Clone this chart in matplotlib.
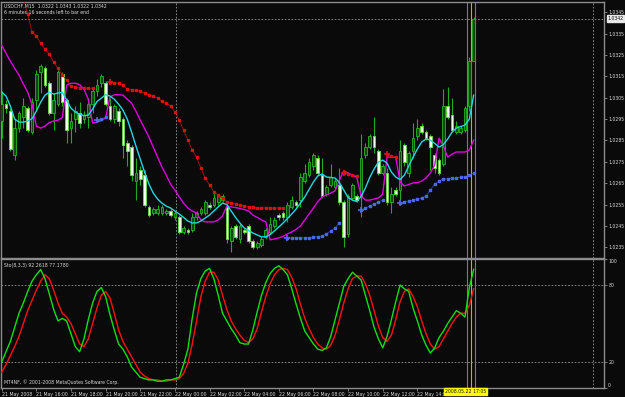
import numpy as np
import matplotlib.pyplot as plt

# ---- data (USDCHF M15) ----
opens = [1.0294, 1.0302, 1.0299, 1.0278, 1.0291, 1.0296, 1.0300, 1.0289, 1.0304, 1.0317,
         1.0319, 1.0312, 1.0298, 1.0302, 1.0316, 1.0304, 1.0291, 1.0295, 1.0298, 1.0295,
         1.0296, 1.0302, 1.0308, 1.0312, 1.0312, 1.0301, 1.0295, 1.0299, 1.0295, 1.0284,
         1.0282, 1.0266, 1.0271, 1.0269, 1.0254, 1.0251, 1.0251, 1.0251, 1.0251, 1.0252,
         1.0249, 1.0249, 1.0242, 1.0243, 1.0243, 1.0249, 1.0251, 1.0251, 1.0255, 1.0255,
         1.0256, 1.0257, 1.0254, 1.0238, 1.0245, 1.0239, 1.0243, 1.0245, 1.0238, 1.0235,
         1.0236, 1.0240, 1.0242, 1.0245, 1.0250, 1.0251, 1.0249, 1.0254, 1.0256, 1.0257,
         1.0266, 1.0269, 1.0273, 1.0277, 1.0269, 1.0260, 1.0264, 1.0263, 1.0264, 1.0256,
         1.0241, 1.0258, 1.0259, 1.0259, 1.0278, 1.0282, 1.0287, 1.0280, 1.0270, 1.0270,
         1.0256, 1.0262, 1.0262, 1.0283, 1.0270, 1.0280, 1.0287, 1.0292, 1.0289, 1.0287,
         1.0278, 1.0276, 1.0274, 1.0301, 1.0297, 1.0289, 1.0289, 1.0290, 1.0301, 1.0322]
highs = [1.0308, 1.0304, 1.0300, 1.0295, 1.0299, 1.0305, 1.0301, 1.0305, 1.0318, 1.0321,
         1.0320, 1.0313, 1.0307, 1.0318, 1.0317, 1.0305, 1.0298, 1.0301, 1.0303, 1.0299,
         1.0305, 1.0309, 1.0314, 1.0316, 1.0313, 1.0305, 1.0302, 1.0300, 1.0296, 1.0285,
         1.0283, 1.0277, 1.0273, 1.0271, 1.0255, 1.0254, 1.0255, 1.0255, 1.0253, 1.0253,
         1.0252, 1.0250, 1.0245, 1.0244, 1.0251, 1.0252, 1.0254, 1.0257, 1.0256, 1.0261,
         1.0260, 1.0260, 1.0256, 1.0245, 1.0246, 1.0246, 1.0244, 1.0246, 1.0239, 1.0238,
         1.0240, 1.0244, 1.0249, 1.0249, 1.0251, 1.0252, 1.0256, 1.0259, 1.0257, 1.0270,
         1.0274, 1.0277, 1.0279, 1.0278, 1.0277, 1.0264, 1.0274, 1.0267, 1.0272, 1.0257,
         1.0260, 1.0265, 1.0260, 1.0288, 1.0284, 1.0288, 1.0296, 1.0281, 1.0274, 1.0272,
         1.0263, 1.0263, 1.0285, 1.0284, 1.0280, 1.0293, 1.0295, 1.0293, 1.0290, 1.0288,
         1.0279, 1.0277, 1.0309, 1.0310, 1.0305, 1.0294, 1.0292, 1.0301, 1.0324, 1.0343]
lows = [1.0286, 1.0298, 1.0280, 1.0276, 1.0289, 1.0291, 1.0289, 1.0288, 1.0299, 1.0307,
        1.0310, 1.0297, 1.0290, 1.0301, 1.0301, 1.0284, 1.0284, 1.0289, 1.0291, 1.0293,
        1.0291, 1.0298, 1.0306, 1.0310, 1.0301, 1.0294, 1.0293, 1.0292, 1.0277, 1.0273,
        1.0266, 1.0257, 1.0264, 1.0254, 1.0249, 1.0250, 1.0250, 1.0250, 1.0250, 1.0249,
        1.0248, 1.0241, 1.0241, 1.0241, 1.0242, 1.0248, 1.0250, 1.0250, 1.0253, 1.0254,
        1.0255, 1.0256, 1.0237, 1.0233, 1.0239, 1.0237, 1.0241, 1.0237, 1.0234, 1.0234,
        1.0235, 1.0239, 1.0241, 1.0244, 1.0248, 1.0248, 1.0247, 1.0253, 1.0254, 1.0254,
        1.0265, 1.0268, 1.0271, 1.0269, 1.0258, 1.0259, 1.0263, 1.0262, 1.0255, 1.0235,
        1.0240, 1.0257, 1.0256, 1.0249, 1.0277, 1.0281, 1.0279, 1.0269, 1.0269, 1.0255,
        1.0251, 1.0259, 1.0257, 1.0273, 1.0268, 1.0277, 1.0285, 1.0288, 1.0285, 1.0271,
        1.0270, 1.0269, 1.0273, 1.0295, 1.0289, 1.0288, 1.0288, 1.0289, 1.0299, 1.0322]
closes = [1.0302, 1.0300, 1.0281, 1.0291, 1.0298, 1.0301, 1.0290, 1.0303, 1.0316, 1.0320,
          1.0311, 1.0298, 1.0304, 1.0317, 1.0303, 1.0290, 1.0294, 1.0299, 1.0293, 1.0297,
          1.0302, 1.0308, 1.0311, 1.0315, 1.0302, 1.0295, 1.0301, 1.0294, 1.0283, 1.0280,
          1.0269, 1.0270, 1.0267, 1.0255, 1.0250, 1.0253, 1.0253, 1.0254, 1.0252, 1.0250,
          1.0251, 1.0242, 1.0244, 1.0242, 1.0249, 1.0251, 1.0253, 1.0256, 1.0254, 1.0258,
          1.0259, 1.0259, 1.0239, 1.0244, 1.0240, 1.0245, 1.0242, 1.0238, 1.0235, 1.0237,
          1.0239, 1.0243, 1.0246, 1.0248, 1.0249, 1.0249, 1.0255, 1.0257, 1.0255, 1.0268,
          1.0270, 1.0275, 1.0278, 1.0270, 1.0259, 1.0263, 1.0268, 1.0266, 1.0256, 1.0240,
          1.0259, 1.0264, 1.0257, 1.0277, 1.0282, 1.0287, 1.0282, 1.0270, 1.0273, 1.0256,
          1.0260, 1.0260, 1.0280, 1.0275, 1.0279, 1.0286, 1.0291, 1.0289, 1.0286, 1.0282,
          1.0272, 1.0270, 1.0301, 1.0296, 1.0290, 1.0292, 1.0291, 1.0300, 1.0322, 1.0342]

ma_cyan = [1.03076, 1.03058, 1.03011, 1.02950, 1.02936, 1.02936, 1.02941, 1.02952, 1.02987, 1.03029,
           1.03062, 1.03076, 1.03067, 1.03072, 1.03076, 1.03039, 1.03001, 1.02983, 1.02973, 1.02966,
           1.02969, 1.02997, 1.03032, 1.03048, 1.03064, 1.03058, 1.03043, 1.03020, 1.02992, 1.02950,
           1.02889, 1.02824, 1.02763, 1.02702, 1.02646, 1.02604, 1.02576, 1.02557, 1.02543, 1.02534,
           1.02520, 1.02506, 1.02490, 1.02473, 1.02464, 1.02464, 1.02473, 1.02487, 1.02501, 1.02520,
           1.02539, 1.02557, 1.02550, 1.02520, 1.02490, 1.02464, 1.02441, 1.02429, 1.02417, 1.02408,
           1.02399, 1.02399, 1.02410, 1.02427, 1.02445, 1.02464, 1.02485, 1.02506, 1.02529, 1.02557,
           1.02586, 1.02621, 1.02656, 1.02684, 1.02693, 1.02679, 1.02677, 1.02674, 1.02653, 1.02618,
           1.02583, 1.02571, 1.02564, 1.02588, 1.02628, 1.02677, 1.02716, 1.02749, 1.02758, 1.02744,
           1.02702, 1.02679, 1.02667, 1.02688, 1.02730, 1.02772, 1.02810, 1.02843, 1.02857, 1.02852,
           1.02836, 1.02819, 1.02831, 1.02857, 1.02889, 1.02908, 1.02915, 1.02922, 1.02950, 1.03062]
ma_magenta = [1.03296, 1.03258, 1.03221, 1.03188, 1.03156, 1.03114, 1.03076, 1.03020, 1.02917, 1.02908,
              1.02917, 1.02934, 1.02941, 1.02945, 1.02957, 1.03109, 1.03118, 1.03118, 1.03111, 1.03090,
              1.03043, 1.02931, 1.02936, 1.02943, 1.02955, 1.03053, 1.03064, 1.03064, 1.03062, 1.03043,
              1.03025, 1.02987, 1.02945, 1.02906, 1.02866, 1.02819, 1.02772, 1.02726, 1.02688, 1.02646,
              1.02618, 1.02586, 1.02557, 1.02534, 1.02520, 1.02511, 1.02478, 1.02469, 1.02469, 1.02469,
              1.02478, 1.02497, 1.02543, 1.02539, 1.02536, 1.02532, 1.02527, 1.02520, 1.02501, 1.02490,
              1.02478, 1.02469, 1.02385, 1.02389, 1.02394, 1.02401, 1.02413, 1.02422, 1.02434, 1.02450,
              1.02478, 1.02506, 1.02534, 1.02564, 1.02586, 1.02595, 1.02604, 1.02614, 1.02665, 1.02707,
              1.02698, 1.02688, 1.02679, 1.02590, 1.02571, 1.02571, 1.02576, 1.02581, 1.02600, 1.02772,
              1.02772, 1.02772, 1.02656, 1.02637, 1.02644, 1.02651, 1.02653, 1.02660, 1.02674, 1.02698,
              1.02735, 1.02861, 1.02824, 1.02772, 1.02786, 1.02796, 1.02796, 1.02796, 1.02805, 1.02852]

nan = np.nan
sar_up = [1.03760, 1.03700, 1.03650, 1.03600, 1.03560, 1.03520, 1.03441, 1.03357, 1.03338, 1.03305,
          1.03277, 1.03254, 1.03216, 1.03188, 1.03156, 1.03132, 1.03104, 1.03100, 1.03095, 1.03095,
          1.03095, 1.03095, nan, nan, nan, 1.03123, 1.03118, 1.03118, 1.03109, 1.03090,
          1.03086, 1.03086, 1.03081, 1.03072, 1.03062, 1.03058, 1.03048, 1.03034, 1.03025, 1.03011,
          1.02983, 1.02945, 1.02899, 1.02852, 1.02805, 1.02772, 1.02721, 1.02674, 1.02642, 1.02609,
          1.02595, 1.02581, 1.02562, 1.02557, 1.02553, 1.02548, 1.02543, 1.02539, 1.02539, 1.02534,
          1.02534, 1.02534, 1.02534, 1.02534, 1.02534, 1.02534, nan, nan, nan, nan,
          nan, nan, nan, nan, nan, nan, nan, nan, nan, 1.02700,
          1.02695, 1.02690, 1.02685, nan, nan, nan, nan, nan, nan, 1.02786,
          1.02777, 1.02772, nan, nan, nan, nan, nan, nan, nan, nan,
          nan, nan, nan, nan, nan, nan, nan, nan, nan, nan]
sar_dn = [nan, nan, nan, nan, nan, nan, nan, nan, nan, nan,
          nan, nan, nan, nan, nan, nan, nan, nan, nan, nan,
          nan, nan, 1.02945, 1.02950, 1.02959, nan, nan, nan, nan, nan,
          nan, nan, nan, nan, nan, nan, nan, nan, nan, nan,
          nan, nan, nan, nan, nan, nan, nan, nan, nan, nan,
          nan, nan, nan, nan, nan, nan, nan, nan, nan, nan,
          nan, nan, nan, nan, nan, nan, 1.02394, 1.02394, 1.02394, 1.02394,
          1.02394, 1.02394, 1.02399, 1.02399, 1.02403, 1.02413, 1.02427, 1.02441, 1.02464, nan,
          nan, nan, nan, 1.02525, 1.02534, 1.02543, 1.02553, 1.02562, 1.02571, nan,
          nan, nan, 1.02557, 1.02562, 1.02567, 1.02571, 1.02576, 1.02581, 1.02590, 1.02618,
          1.02646, 1.02660, 1.02670, 1.02670, 1.02674, 1.02674, 1.02679, 1.02679, 1.02688, 1.02698]

sto_main = [20, 28, 36, 47, 58, 66, 75, 83, 88, 92,
            85, 73, 61, 52, 54, 52, 42, 32, 28, 38,
            53, 66, 75, 78, 71, 57, 45, 34, 30, 24,
            16, 12, 8, 7, 6, 6, 5, 5, 6, 6,
            7, 8, 18, 30, 54, 74, 85, 91, 93, 85,
            72, 58, 52, 46, 41, 35, 34, 34, 45, 59,
            72, 82, 89, 93, 95, 92, 88, 77, 65, 54,
            44, 39, 34, 30, 29, 31, 40, 53, 66, 79,
            85, 90, 87, 84, 72, 60, 47, 38, 31, 40,
            53, 67, 80, 77, 75, 62, 52, 41, 33, 27,
            31, 39, 44, 50, 55, 60, 58, 55, 78, 92.2618]
sto_signal = [12, 18, 25, 32, 40, 50, 60, 68, 76, 83,
              88, 85, 76, 66, 58, 55, 50, 42, 34, 32,
              38, 50, 62, 72, 75, 70, 58, 45, 36, 30,
              24, 18, 12, 9, 7, 6, 6, 5, 5, 6,
              6, 7, 11, 19, 34, 52, 71, 83, 90, 90,
              84, 72, 61, 52, 46, 41, 37, 35, 38, 46,
              59, 71, 81, 88, 92, 93, 92, 86, 77, 65,
              54, 46, 39, 34, 31, 30, 33, 41, 53, 66,
              77, 85, 87, 87, 81, 72, 60, 48, 39, 36,
              41, 53, 67, 75, 77, 71, 63, 52, 42, 34,
              30, 32, 38, 44, 50, 55, 58, 58, 64, 77.1780]

price_ticks = [1.0345, 1.0335, 1.0325, 1.0315, 1.0305, 1.0295, 1.0285, 1.0275, 1.0265, 1.0255, 1.0245, 1.0235]
time_labels = ["21 May 2008", "21 May 16:00", "21 May 18:00", "21 May 20:00", "21 May 22:00",
               "22 May 00:00", "22 May 02:00", "22 May 04:00", "22 May 06:00", "22 May 08:00",
               "22 May 10:00", "22 May 12:00", "22 May 14:00"]
bid = 1.0342

bg = '#0a0a0a'
fg = '#d8d8d8'
frame = '#8c8c8c'
W, H = 625, 397
fs = 3.3

fig = plt.figure(figsize=(6.25, 3.97), dpi=100, facecolor=bg)
ax = fig.add_axes([1 / W, 1 - 258 / H, 603 / W, 256 / H], facecolor=bg)
ax2 = fig.add_axes([1 / W, 1 - 388 / H, 603 / W, 129 / H], facecolor=bg)

n = len(closes)
x = np.arange(n)
o = np.array(opens); c = np.array(closes)

# candles
ax.vlines(x, lows, highs, color='#1faa1f', lw=0.8, zorder=3)
up = c >= o
body = np.maximum(np.abs(c - o), 0.00004)
ax.bar(x[up], body[up], bottom=o[up], width=0.62, color='#0e4a0e', edgecolor='#25b525', lw=0.6, zorder=4)
ax.bar(x[~up], body[~up], bottom=c[~up], width=0.62, color='#f2fff0', edgecolor='#66e040', lw=0.6, zorder=4)

# indicators
ax.plot(x, ma_magenta, color='#e000e0', lw=1.0, zorder=5)
ax.plot(x, ma_cyan, color='#20d8e0', lw=1.0, zorder=6)
ax.plot(x, sar_up, color='#c81010', lw=0.5, marker='s', ms=1.8, mec='#e01010', mfc='#e01010', zorder=6)
ax.plot(x, sar_dn, color='#3050d0', lw=0.5, marker='s', ms=1.8, mec='#4a6ae8', mfc='#4a6ae8', zorder=6)
for ser, col in ((sar_up, '#e01010'), (sar_dn, '#4a6ae8')):
    s = np.array(ser)
    starts = [i for i in range(1, n) if not np.isnan(s[i]) and np.isnan(s[i - 1])]
    ax.plot(starts, s[starts], ls='none', marker='+', ms=4, mew=1.2, color=col, zorder=7)

ax.axhline(bid, color='#9a9a9a', lw=0.6, ls=(0, (2, 2)), zorder=2)

ax.set_xlim(-0.16, 139.1)
ax.set_ylim(1.02300, 1.03498)
ax2.set_xlim(-0.16, 139.1)
ax2.set_ylim(-0.3, 100.3)

# stochastic
ax2.plot(x, sto_signal, color='#ff1010', lw=1.0, zorder=4)
ax2.plot(x, sto_main, color='#10e010', lw=1.0, zorder=5)
for lvl in (80, 20):
    ax2.axhline(lvl, color='#9a9a9a', lw=0.6, ls=(0, (2, 2)), zorder=2)
ax2.axhline(0, color='#a070a0', lw=0.6, ls=(0, (2, 2)), zorder=2)

# separators and vertical lines
for a in (ax, ax2):
    a.axvline(40.25, color='#9a9a9a', lw=0.6, ls=(0, (2, 2)), zorder=1)
    a.axvline(136.6, color='#9a9a9a', lw=0.6, ls=(0, (2, 2)), zorder=1)
    a.axvline(107.45, color='#808050', lw=0.8, zorder=2)
    a.axvline(108.4, color='#b0b040', lw=0.8, zorder=2)
    a.axvline(109.3, color='#808050', lw=0.8, zorder=2)
    for sp in a.spines.values():
        sp.set_color(frame)
        sp.set_linewidth(1.0)

# right axis labels
font = dict(fontsize=fs, color=fg, family='DejaVu Sans')
ax.yaxis.tick_right()
ax.set_yticks(price_ticks)
ax.set_yticklabels(['%.4f' % p for p in price_ticks], **font)
ax.tick_params(axis='y', length=2, width=0.6, color=frame, pad=1.0)
ax.set_xticks([])

ax2.yaxis.tick_right()
ax2.set_yticks([100, 80, 20, 0])
ax2.set_yticklabels(['100', '80', '20', '0'], **font)
ax2.tick_params(axis='y', length=2, width=0.6, color=frame, pad=1.0)
ax2.get_yticklabels()[0].set_va('top')
ax2.get_yticklabels()[3].set_va('bottom')

ax2.set_xticks(np.arange(len(time_labels)) * 8)
ax2.set_xticklabels(time_labels, ha='left', **font)
ax2.tick_params(axis='x', length=2, width=0.6, color=frame, pad=1.0)

# current price box
ax.text(1.006, (bid - 1.02300) / (1.03498 - 1.02300), '%.4f' % bid, transform=ax.transAxes,
        ha='left', va='center', fontsize=fs, color='#101010', family='DejaVu Sans',
        bbox=dict(boxstyle='square,pad=0.15', fc='#e8e8e8', ec='#e8e8e8'), zorder=10)

# header texts
fig.text(4 / W, 1 - 6 / H, 'USDCHF,M15  1.0322 1.0343 1.0322 1.0342', ha='left', va='center', **font)
fig.text(4 / W, 1 - 12.5 / H, '6 minutes 16 seconds left to bar end', ha='left', va='center', **font)
fig.text(4 / W, 1 - 265 / H, 'Sto(8,3,3) 92.2618 77.1780', ha='left', va='center', **font)
fig.text(4 / W, 1 - 382 / H, 'MT4NF, \u00a9 2001-2008 MetaQuotes Software Corp.', ha='left', va='center', **font)
fig.text(445 / W, 1 - 391.5 / H, '2008.05.22 17:05', ha='left', va='center', fontsize=fs, color='#101010',
         family='DejaVu Sans', bbox=dict(boxstyle='square,pad=0.2', fc='#ffff00', ec='#ffff00'), zorder=10)

fig.savefig('out.png', dpi=100, facecolor=bg)
